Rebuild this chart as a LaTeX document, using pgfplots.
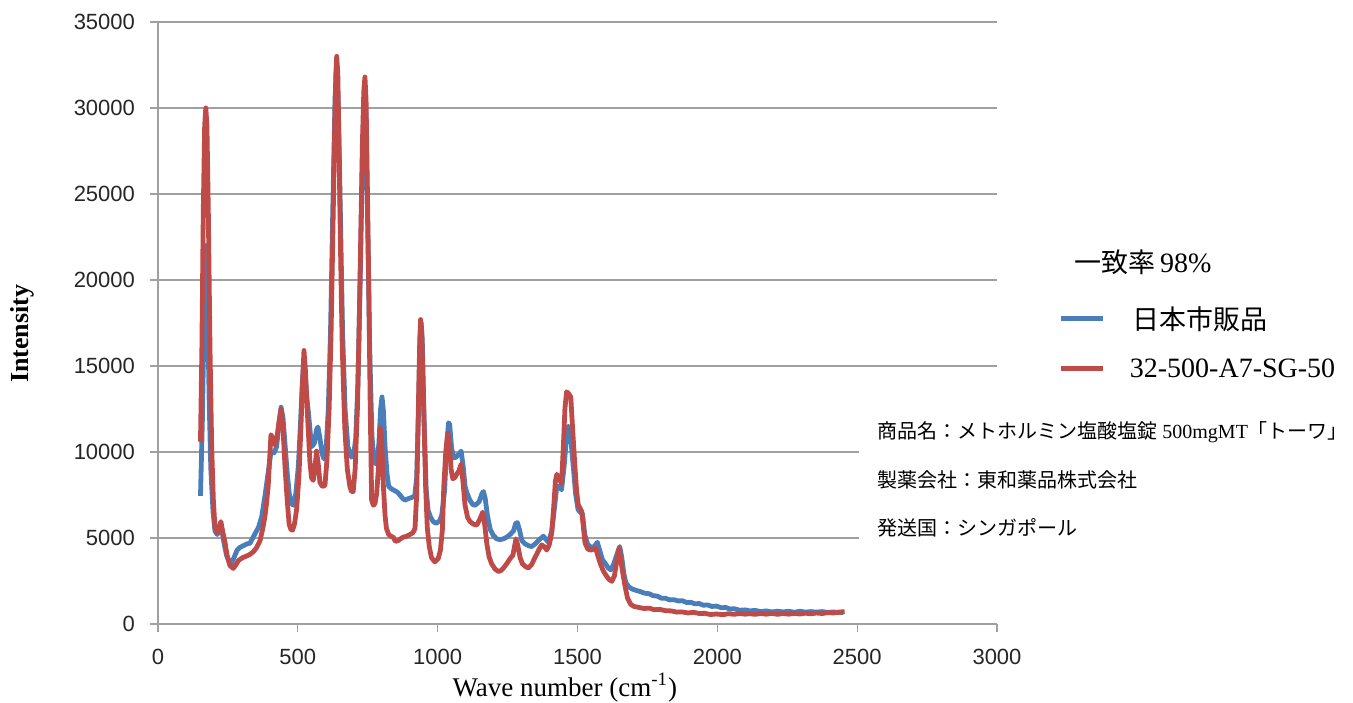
\documentclass[border=0pt]{standalone}
\usepackage{fontspec}
\setmainfont{Liberation Serif}
\setsansfont{Liberation Sans}
\newfontfamily\cjk{Noto Sans CJK JP}
\usepackage{pgfplots}
\pgfplotsset{compat=1.18}
\definecolor{sblue}{RGB}{74,126,187}
\definecolor{sred}{RGB}{190,75,72}
\definecolor{gridc}{RGB}{160,160,160}

\begin{document}
\begin{tikzpicture}
\begin{axis}[
  scale only axis, width=419.5bp, height=301bp,
  xmin=0, xmax=3000, ymin=0, ymax=35000,
  xtick={0,500,...,3000}, ytick={0,5000,...,35000},
  axis lines*=left, axis line style={-, gridc, line width=0.6bp},
  tick align=outside, major tick length=4bp, tick style={gridc, line width=0.6bp},
  ymajorgrids, major grid style={gridc, line width=0.6bp},
  scaled ticks=false,
  /pgf/number format/1000 sep={},
  /pgf/number format/assume math mode=true,
  tick label style={font=\sffamily\fontsize{11bp}{13bp}\selectfont, text=black!85},
  yticklabel style={xshift=-4bp},
  xticklabel style={yshift=-5bp},
  xlabel={Wave number (cm\textsuperscript{-1})},
  ylabel={\bfseries Intensity},
  xlabel style={at={(axis description cs:0.485,-0.106)}, anchor=center, font=\fontsize{13.5bp}{15bp}\selectfont},
  ylabel style={at={(axis description cs:-0.162,0.482)}, anchor=center, font=\fontsize{13bp}{15bp}\selectfont},
  clip=false,
]

% 日本市販品
\addplot[sblue, line width=2.4bp, line join=round] coordinates {
(152,7450) (159,12000) (165,18000) (171,22000) (177,19000) (183,13000) (189,9000) (197,6500)
(204,5400) (212,5200) (220,5500) (227,5600) (235,4800) (245,4000) (255,3600) (263,3550)
(273,3900) (283,4300) (293,4450) (305,4550) (317,4650) (329,4700) (339,5000) (347,5250)
(359,5600) (371,6250) (383,7500) (394,8800) (404,10000) (415,9950) (424,10300) (432,11500)
(440,12600) (447,12000) (454,10500) (462,8800) (470,7500) (478,7000) (484,6900) (493,7600)
(502,9200) (510,11800) (516,14000) (521,15200) (526,14600) (532,13200) (539,12100) (549,10300)
(559,10500) (567,11300) (572,11450) (579,10800) (587,9900) (593,9600) (602,10400) (609,12500)
(617,17000) (625,24000) (633,30500) (639,32500) (645,30000) (652,24000) (660,17000) (669,12500)
(679,10300) (692,9700) (700,9850) (707,10800) (715,14000) (723,20000) (731,27000) (738,30500)
(743,30000) (749,24000) (757,16000) (765,11000) (772,9400) (782,9300) (790,10500) (796,12500)
(801,13200) (806,12400) (812,10300) (819,8700) (825,8000) (835,7850) (847,7750) (857,7650)
(865,7500) (875,7300) (883,7200) (897,7300) (907,7350) (918,7450) (925,8500) (931,12000)
(937,16500) (941,17500) (945,16500) (952,11500) (959,7800) (966,6600) (975,6200) (984,5950)
(995,5850) (1007,6000) (1015,6350) (1025,7800) (1033,10500) (1039,11700) (1043,11600) (1050,10200)
(1058,9650) (1066,9700) (1077,9900) (1084,10050) (1091,9200) (1098,8000) (1104,7650) (1115,7200)
(1125,6950) (1134,6900) (1148,7100) (1159,7600) (1164,7700) (1170,7300) (1178,6300) (1188,5500)
(1199,5150) (1211,4950) (1223,4900) (1235,4950) (1247,5050) (1259,5200) (1271,5400) (1279,5850)
(1285,5900) (1293,5450) (1301,4850) (1313,4650) (1325,4550) (1336,4500) (1348,4650) (1363,4900)
(1378,5100) (1388,4900) (1396,4750) (1408,5400) (1418,6800) (1426,8000) (1435,8000) (1443,7800)
(1453,9300) (1461,11000) (1467,11500) (1473,11200) (1479,10200) (1485,9150) (1493,7600) (1502,6650)
(1510,6500) (1518,6400) (1526,5200) (1536,4650) (1548,4450) (1560,4500) (1571,4750) (1580,4250)
(1589,3750) (1600,3500) (1610,3250) (1619,3150) (1630,3500) (1642,4100) (1651,4500) (1658,3900)
(1666,2900) (1673,2400) (1684,2150) (1696,2030) (1710,1950) (1725,1880) (1740,1790) (1756,1760)
(1770,1650) (1785,1620) (1800,1500) (1815,1490) (1830,1400) (1845,1410) (1860,1340) (1875,1350)
(1890,1250) (1905,1260) (1920,1170) (1935,1190) (1950,1090) (1965,1110) (1980,1020) (1997,1040)
(2015,940) (2030,960) (2045,870) (2060,890) (2080,800) (2100,820) (2116,760) (2135,790)
(2155,720) (2175,760) (2195,700) (2215,740) (2235,700) (2255,740) (2275,680) (2295,740)
(2315,690) (2335,720) (2354,690) (2375,720) (2395,670) (2415,700) (2435,650) (2450,670)
};

% 32-500-A7-SG-50
\addplot[sred, line width=2.4bp, line join=round] coordinates {
(152,10600) (157,16000) (162,24000) (167,29000) (171,30000) (175,29000) (180,24000) (186,16000)
(192,10300) (198,7200) (204,5550) (213,5300) (220,5700) (225,5950) (231,5400) (239,4800)
(247,4000) (257,3400) (269,3230) (279,3450) (287,3680) (302,3850) (317,3950) (329,4050)
(341,4200) (353,4450) (365,4850) (374,5500) (382,6200) (388,7000) (394,8000) (399,9500)
(404,11000) (411,10800) (418,10400) (425,10800) (433,11800) (440,12500) (447,11400) (454,9200)
(462,7200) (469,5800) (475,5500) (481,5450) (488,5800) (496,6700) (504,8600) (511,11400)
(517,14000) (522,15900) (527,14800) (532,13000) (537,11400) (543,9500) (549,8500) (555,8350)
(561,9000) (567,10050) (573,9300) (579,8250) (587,8000) (597,8050) (604,9500) (612,12500)
(619,17000) (624,21500) (631,28000) (636,32000) (639,33000) (643,32000) (648,27000) (653,21500)
(659,16000) (668,11400) (677,9000) (686,8000) (692,7700) (698,7700) (705,9000) (713,12500)
(719,17000) (724,21500) (731,28000) (736,31000) (740,31800) (744,30500) (749,25000) (754,19300)
(759,12500) (764,7200) (770,6900) (776,7000) (782,7600) (788,9000) (794,11400) (799,11000)
(806,8000) (812,6300) (817,5550) (825,5200) (833,5100) (841,5050) (849,4800) (859,4850)
(867,4950) (877,5050) (889,5100) (901,5200) (911,5300) (919,5550) (925,7500) (931,12500)
(936,16500) (939,17700) (943,17000) (947,14500) (951,12000) (957,8000) (963,5600) (970,4500)
(978,3850) (990,3610) (1002,3800) (1010,4300) (1017,5500) (1022,8000) (1029,10000) (1036,11100)
(1042,10500) (1048,9000) (1054,8450) (1061,8500) (1068,8700) (1076,8900) (1084,9300) (1091,8200)
(1098,6900) (1107,6200) (1116,5950) (1128,5800) (1140,5750) (1151,6100) (1161,6500) (1168,5800)
(1176,4650) (1184,3900) (1193,3500) (1205,3200) (1217,3050) (1226,3100) (1235,3250) (1247,3500)
(1259,3800) (1269,4000) (1276,4600) (1280,4950) (1286,4600) (1295,3850) (1303,3500) (1313,3350)
(1324,3250) (1336,3450) (1346,3800) (1354,4050) (1363,4350) (1372,4600) (1381,4500) (1390,4300)
(1399,4600) (1408,5300) (1415,6800) (1421,8300) (1426,8700) (1433,8500) (1443,8150) (1450,10500)
(1455,12500) (1461,13500) (1468,13400) (1476,13200) (1482,11500) (1491,9100) (1497,7700) (1503,6900)
(1509,6750) (1515,6550) (1520,5800) (1527,4700) (1537,4350) (1548,4300) (1557,4350) (1565,4400)
(1574,3900) (1583,3450) (1592,3100) (1601,2850) (1612,2600) (1623,2480) (1632,2800) (1642,3800)
(1649,4400) (1655,3700) (1661,3050) (1670,2200) (1679,1500) (1690,1150) (1702,1020) (1720,960)
(1738,900) (1756,920) (1775,830) (1795,850) (1815,770) (1835,760) (1855,690) (1875,700)
(1895,640) (1915,680) (1935,610) (1955,620) (1975,550) (1997,580) (2020,540) (2040,600)
(2060,560) (2080,610) (2100,570) (2116,600) (2135,560) (2155,610) (2175,570) (2195,620)
(2215,560) (2235,610) (2255,570) (2275,620) (2295,580) (2315,630) (2335,590) (2354,640)
(2375,610) (2395,660) (2415,640) (2435,690) (2455,720)
};

% white box behind the product notes
\fill[white] (rel axis cs:0.835,0.10) rectangle (rel axis cs:1.0,0.375);

% legend
\node[anchor=west, font=\fontsize{14bp}{16bp}\selectfont] at (rel axis cs:1.084,0.600) {{\cjk\fontsize{13.5bp}{16bp}\selectfont 一致率}\,98\%};
\draw[sblue, line width=2.4bp] (rel axis cs:1.076,0.507) -- (rel axis cs:1.126,0.507);
\node[anchor=west, font=\cjk\fontsize{13.5bp}{16bp}\selectfont] at (rel axis cs:1.153,0.507) {日本市販品};
\draw[sred, line width=2.4bp] (rel axis cs:1.076,0.425) -- (rel axis cs:1.126,0.425);
\node[anchor=west, font=\fontsize{14bp}{16bp}\selectfont] at (rel axis cs:1.150,0.425) {32-500-A7-SG-50};

% product notes
\node[anchor=west, font=\cjk\fontsize{10bp}{12bp}\selectfont, inner sep=0pt] at (rel axis cs:0.857,0.319) {商品名：メトホルミン塩酸塩錠{\rmfamily\ 500mgMT}「トーワ」};
\node[anchor=west, font=\cjk\fontsize{10bp}{12bp}\selectfont, inner sep=0pt] at (rel axis cs:0.857,0.239) {製薬会社：東和薬品株式会社};
\node[anchor=west, font=\cjk\fontsize{10bp}{12bp}\selectfont, inner sep=0pt] at (rel axis cs:0.857,0.159) {発送国：シンガポール};

\coordinate (bl) at (rel axis cs:-0.1883,-0.1296);
\coordinate (tr) at (rel axis cs:1.4243,1.0365);
\end{axis}
\pgfresetboundingbox
\path[use as bounding box] (bl) rectangle (tr);
\end{tikzpicture}
\end{document}
